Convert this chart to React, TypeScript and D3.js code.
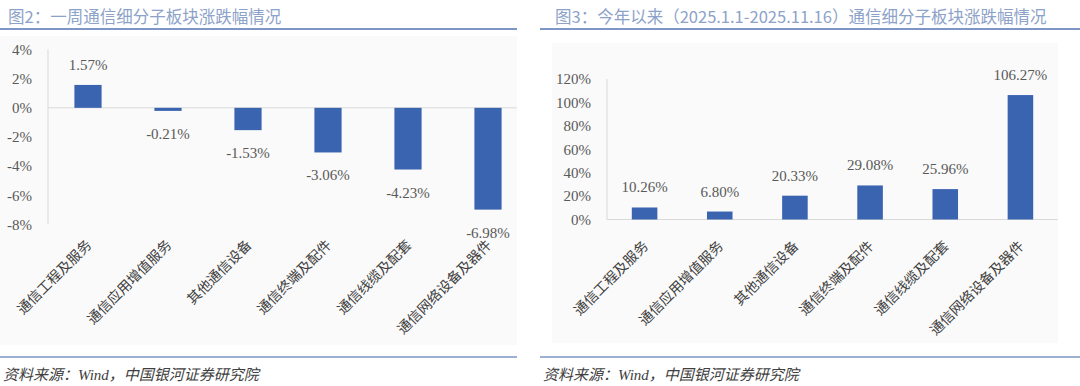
import React, { useEffect, useRef } from 'react';
import * as d3 from 'd3';

// 通信细分子板块
const categories = [
  '通信工程及服务',
  '通信应用增值服务',
  '其他通信设备',
  '通信终端及配件',
  '通信线缆及配套',
  '通信网络设备及器件',
];
// 图2 一周涨跌幅 (%)
const weeklyChange = [1.57, -0.21, -1.53, -3.06, -4.23, -6.98];
const weeklyTicks = [4, 2, 0, -2, -4, -6, -8];
// 图3 今年以来涨跌幅 (%)
const ytdChange = [10.26, 6.8, 20.33, 29.08, 25.96, 106.27];
const ytdTicks = [0, 20, 40, 60, 80, 100, 120];

const titles = [
  '图2：一周通信细分子板块涨跌幅情况',
  '图3：今年以来（2025.1.1-2025.11.16）通信细分子板块涨跌幅情况',
];
const sourceText = '资料来源：Wind，中国银河证券研究院';

const BAR = '#3A64B0';
const LINE = '#7D96C6';
const TITLE = '#8CA2C8';
const NUM = '#595959';
const AXIS = '#D9D9D9';
const serif = '"Liberation Serif", "Noto Sans CJK SC", serif';
const cjk = '"Noto Sans CJK SC", sans-serif';

const App = () => {
  const svgRef = useRef(null);

  useEffect(() => {
    const svg = d3.select(svgRef.current);
    svg.selectAll('*').remove();

    const drawPanel = (opt) => {
      const g = svg.append('g');

      // 背景
      g.append('rect')
        .attr('x', opt.bg[0]).attr('y', opt.bg[1])
        .attr('width', opt.bg[2]).attr('height', opt.bg[3])
        .attr('fill', '#FAFAFA');

      // 标题 + 线
      g.append('text')
        .attr('x', opt.titleX).attr('y', 23)
        .attr('font-family', cjk).attr('font-size', 16.5)
        .attr('fill', TITLE)
        .text(opt.title);
      g.append('line')
        .attr('x1', opt.x0).attr('x2', opt.x1)
        .attr('y1', 29).attr('y2', 29)
        .attr('stroke', LINE).attr('stroke-width', 2);

      // 来源
      g.append('line')
        .attr('x1', opt.x0).attr('x2', opt.x1)
        .attr('y1', 357).attr('y2', 357)
        .attr('stroke', LINE).attr('stroke-width', 1.5);
      g.append('text')
        .attr('x', opt.x0 + 3).attr('y', 380)
        .attr('font-family', serif).attr('font-size', 15)
        .attr('font-style', 'italic').attr('fill', '#404040')
        .text(sourceText);

      const x = d3.scaleBand()
        .domain(categories)
        .range(opt.xRange)
        .paddingInner(opt.pad).paddingOuter(opt.pad / 2);
      const y = d3.scaleLinear().domain(opt.domain).range(opt.yRange);
      const yBottom = y(opt.domain[0]);

      // 轴线
      g.append('line')
        .attr('x1', opt.xRange[0]).attr('x2', opt.xRange[0])
        .attr('y1', y(opt.domain[1])).attr('y2', yBottom)
        .attr('stroke', AXIS);
      g.append('line')
        .attr('x1', opt.xRange[0]).attr('x2', opt.zeroEnd)
        .attr('y1', y(0)).attr('y2', y(0))
        .attr('stroke', AXIS);

      g.selectAll('.tick')
        .data(opt.ticks)
        .enter().append('text')
        .attr('x', opt.xRange[0] - 16)
        .attr('y', d => y(d))
        .attr('dy', '0.35em')
        .attr('text-anchor', 'end')
        .attr('font-family', serif).attr('font-size', 15)
        .attr('fill', NUM)
        .text(d => `${d}%`);

      g.selectAll('.bar')
        .data(opt.values)
        .enter().append('rect')
        .attr('x', (d, i) => x(categories[i]))
        .attr('width', x.bandwidth())
        .attr('y', d => y(Math.max(0, d)))
        .attr('height', d => Math.abs(y(d) - y(0)))
        .attr('fill', BAR);

      g.selectAll('.lbl')
        .data(opt.values)
        .enter().append('text')
        .attr('x', (d, i) => x(categories[i]) + x.bandwidth() / 2)
        .attr('y', d => d >= 0 ? y(d) - 15 : y(d) + 28)
        .attr('text-anchor', 'middle')
        .attr('font-family', serif).attr('font-size', 15)
        .attr('fill', NUM)
        .text(d => `${d.toFixed(2)}%`);

      g.selectAll('.cat')
        .data(categories)
        .enter().append('text')
        .attr('transform', d => {
          const cx = x(d) + x.bandwidth() / 2 + 1;
          const cy = yBottom + opt.catOffset;
          return `translate(${cx},${cy}) rotate(-45)`;
        })
        .attr('text-anchor', 'end')
        .attr('dy', '0.35em')
        .attr('font-family', cjk).attr('font-size', 14)
        .attr('fill', '#404040')
        .text(d => d);
    };

    drawPanel({
      title: titles[0], titleX: 8, x0: 0, x1: 517,
      bg: [0, 36, 517, 309],
      xRange: [48, 528], pad: 0.66, zeroEnd: 517,
      domain: [-8, 4], yRange: [224.5, 49.5], ticks: weeklyTicks,
      values: weeklyChange, catOffset: 18,
    });

    drawPanel({
      title: titles[1], titleX: 555, x0: 540, x1: 1080,
      bg: [552, 43, 506, 300],
      xRange: [607, 1058], pad: 0.66, zeroEnd: 1058,
      domain: [0, 120], yRange: [219.5, 79], ticks: ytdTicks,
      values: ytdChange, catOffset: 24,
    });
  }, []);

  return (
    <div style={{ position: 'absolute', left: 0, top: 0, background: '#fff' }}>
      <svg ref={svgRef} width={1080} height={386}></svg>
    </div>
  );
};

export default App;
